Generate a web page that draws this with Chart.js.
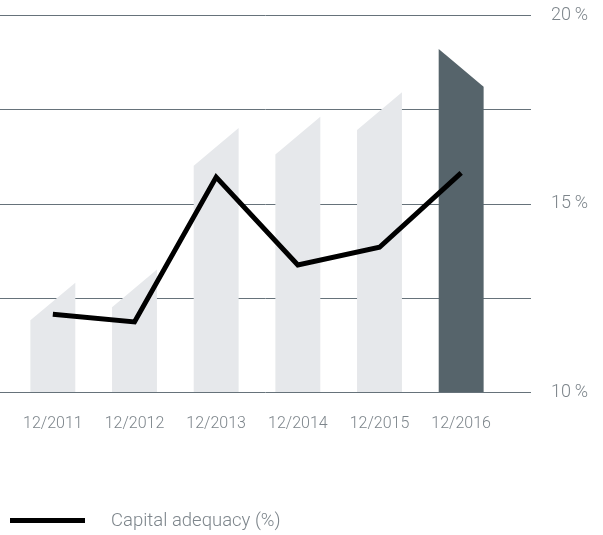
<!DOCTYPE html>
<html>
<head>
<meta charset="utf-8">
<script src="https://cdn.jsdelivr.net/npm/chart.js@4"></script>
<style>
    html, body { margin: 0; padding: 0; background: #fff; }
    #wrap { position: relative; width: 603px; height: 535px; }
    #legend {
        position: absolute; left: 10px; top: 509px;
        font-family: 'Roboto', sans-serif; font-weight: 300;
        font-size: 18.5px; color: #7d858b;
        display: flex; align-items: center;
    }
    #legend .swatch { width: 75px; height: 5px; background: #000; margin-right: 26px; }
</style>
</head>
<body>
<div id="wrap">
    <canvas id="capital-chart" width="603" height="535"></canvas>
    <div id="legend"><span class="swatch"></span><span id="legend-text"></span></div>
</div>
<script>
const labels = ['12/2011', '12/2012', '12/2013', '12/2014', '12/2015', '12/2016'];
// bar heights (top corner), in %
const barValues = [12.9, 13.25, 17.0, 17.3, 17.95, 19.1];
const capitalAdequacy = [12.06, 11.86, 15.7, 13.37, 13.84, 15.81];
const yTicks = [10, 12.5, 15, 17.5, 20];
const tickLabels = { 10: '10\u2009%', 15: '15\u2009%', 20: '20\u2009%' };
const seriesLabel = 'Capital adequacy (%)';

const highlightIndex = 5;
const cutDepth = 1.0; // slanted top, in % units
const fontFamily = "'Roboto', sans-serif";
const textColor = '#7d858b';
const gridColor = '#66727a';

// gridlines reach further left/right than the bars
const gridPlugin = {
    id: 'wideGrid',
    beforeDatasetsDraw(chart) {
        const ctx = chart.ctx;
        const y = chart.scales.y;
        ctx.save();
        ctx.strokeStyle = gridColor;
        ctx.lineWidth = 1;
        yTicks.forEach(v => {
            const py = Math.round(y.getPixelForValue(v)) + 0.5;
            ctx.beginPath();
            ctx.moveTo(0, py);
            ctx.lineTo(531, py);
            ctx.stroke();
        });
        ctx.restore();
    }
};

// bars with a cut-off top corner
const slantBars = {
    id: 'slantBars',
    beforeDatasetDraw(chart, args) {
        if (args.meta.type !== 'bar') return;
        const ctx = chart.ctx;
        const y = chart.scales.y;
        const base = Math.round(y.getPixelForValue(y.min));
        ctx.save();
        args.meta.data.forEach((bar, i) => {
            const left = bar.x - bar.width / 2;
            const right = bar.x + bar.width / 2;
            const high = bar.y;
            const low = y.getPixelForValue(barValues[i] - cutDepth);
            ctx.fillStyle = i === highlightIndex ? '#56646b' : '#e6e8eb';
            ctx.beginPath();
            ctx.moveTo(left, base);
            if (i === highlightIndex) {
                ctx.lineTo(left, high);
                ctx.lineTo(right, low);
            } else {
                ctx.lineTo(left, low);
                ctx.lineTo(right, high);
            }
            ctx.lineTo(right, base);
            ctx.closePath();
            ctx.fill();
        });
        ctx.restore();
        return false;
    }
};

function renderChart() {
    const ctx = document.getElementById('capital-chart').getContext('2d');
    document.getElementById('legend-text').textContent = seriesLabel;

    window.myChart = new Chart(ctx, {
        data: {
            labels,
            datasets: [{
                type: 'line',
                label: seriesLabel,
                data: capitalAdequacy,
                borderColor: '#000',
                backgroundColor: '#000',
                borderWidth: 5,
                borderJoinStyle: 'miter',
                pointRadius: 0,
                tension: 0,
                order: 0
            }, {
                type: 'bar',
                label: 'bars',
                data: barValues,
                backgroundColor: '#e6e8eb',
                barPercentage: 0.55,
                categoryPercentage: 1,
                order: 1
            }]
        },
        options: {
            responsive: false,
            animation: false,
            layout: { padding: { left: 12, top: 15, right: 15, bottom: 0 } },
            plugins: {
                legend: { display: false },
                tooltip: { enabled: false }
            },
            scales: {
                x: {
                    grid: { display: false },
                    border: { display: false },
                    ticks: {
                        color: textColor,
                        font: { family: fontFamily, size: 16, weight: 300 },
                        padding: 14,
                        maxRotation: 0,
                        autoSkip: false
                    },
                    afterFit(scale) { scale.height = 143; }
                },
                y: {
                    position: 'right',
                    min: 10,
                    max: 20,
                    grid: { display: false, drawTicks: false },
                    border: { display: false },
                    afterBuildTicks(scale) {
                        scale.ticks = yTicks.map(v => ({ value: v }));
                    },
                    ticks: {
                        color: textColor,
                        font: { family: fontFamily, size: 18, weight: 300 },
                        padding: 0,
                        crossAlign: 'far',
                        callback: v => tickLabels[v] || ''
                    },
                    afterFit(scale) { scale.width = 86; }
                }
            }
        },
        plugins: [gridPlugin, slantBars]
    });
}

document.addEventListener('DOMContentLoaded', () => {
    renderChart();
});
</script>
</body>
</html>
